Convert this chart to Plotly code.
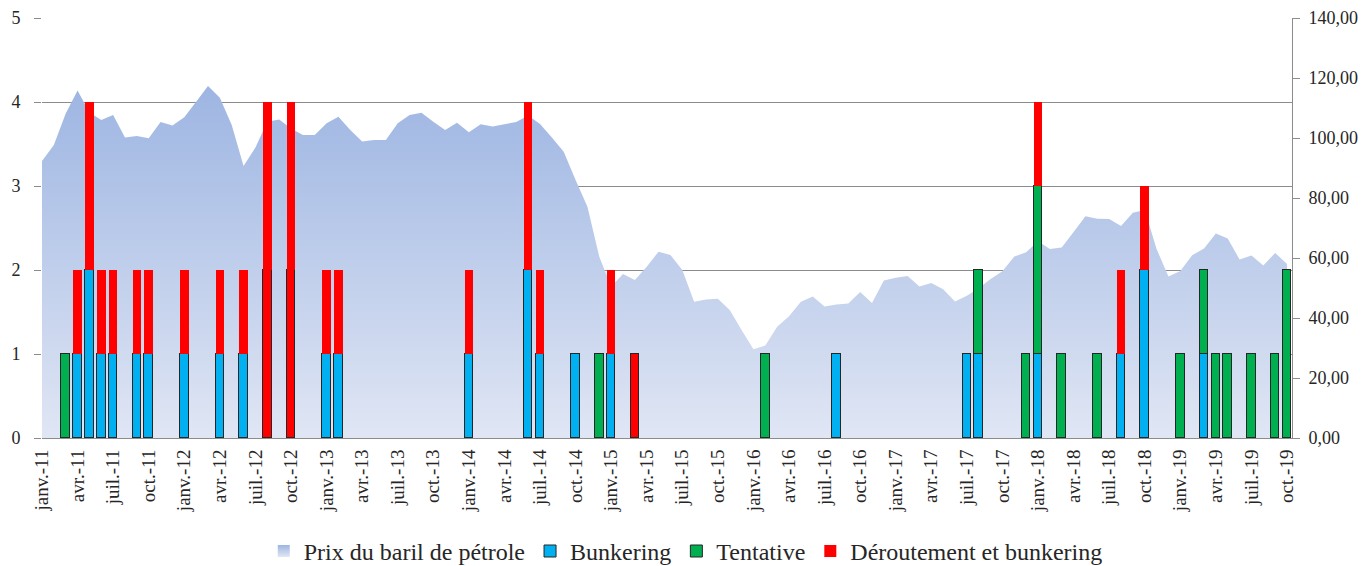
import plotly.graph_objects as go

# ---- categories (months janv.-11 .. oct.-19) ----
month_abbr = ["janv.", "févr.", "mars", "avr.", "mai", "juin",
              "juil.", "août", "sept.", "oct.", "nov.", "déc."]
years = ["11", "12", "13", "14", "15", "16", "17", "18", "19"]
months = [f"{m}-{y}" for y in years for m in month_abbr][:106]

# ---- oil price (right axis) ----
oil_price = [
    92.3, 97.7, 108.2, 115.8, 108.5, 106.0, 107.7, 100.2, 100.7, 99.9, 105.3, 104.2,
    106.9, 112.1, 117.3, 113.4, 104.3, 90.7, 96.8, 105.4, 106.2, 103.2, 101.0, 101.0,
    104.9, 107.1, 102.7, 98.8, 99.3, 99.3, 104.9, 107.7, 108.4, 105.4, 102.7, 105.1,
    101.9, 104.6, 103.8, 104.6, 105.3, 107.5, 104.7, 100.2, 95.4, 86.0, 77.1, 60.4,
    50.5, 54.7, 52.7, 57.1, 62.1, 61.0, 56.0, 45.4, 46.2, 46.4, 42.7, 36.0,
    29.6, 30.8, 37.1, 40.6, 45.4, 47.2, 43.8, 44.5, 44.8, 48.7, 45.0, 52.5,
    53.4, 54.0, 50.5, 51.7, 49.6, 45.5, 47.4, 49.9, 53.0, 55.6, 60.5, 61.9,
    65.6, 63.0, 63.5, 68.7, 73.9, 73.1, 73.0, 70.7, 75.1, 76.0, 63.0, 53.8,
    55.7, 60.9, 63.2, 68.2, 66.5, 59.5, 60.8, 57.5, 61.7, 58.0,
]

# ---- incidents (left axis): month label -> count ----
bunkering_months = ["avr.-11", "mai-11", "juin-11", "juil.-11", "sept.-11", "oct.-11",
                    "janv.-12", "avr.-12", "juin-12", "août-12", "oct.-12", "janv.-13",
                    "févr.-13", "janv.-14", "juin-14", "juil.-14", "oct.-14", "janv.-15",
                    "mars-15", "août-16", "juil.-17", "août-17", "janv.-18", "août-18",
                    "oct.-18", "mars-19"]
bunkering_counts = [1, 2, 1, 1, 1, 1, 1, 1, 1, 2, 2, 1, 1, 1, 2, 1, 1, 1, 1, 1, 1, 1, 1, 1, 2, 1]
# bunkering bars drawn with a red fill in the original
bunkering_red_months = ["août-12", "oct.-12", "mars-15"]

tentative_months = ["mars-11", "déc.-14", "févr.-16", "août-17", "déc.-17", "janv.-18",
                    "mars-18", "juin-18", "janv.-19", "mars-19", "avr.-19", "mai-19",
                    "juil.-19", "sept.-19", "oct.-19"]
tentative_counts = [1, 1, 1, 1, 1, 2, 1, 1, 1, 1, 1, 1, 1, 1, 2]

deroutement_months = ["avr.-11", "mai-11", "juin-11", "juil.-11", "sept.-11", "oct.-11",
                      "janv.-12", "avr.-12", "juin-12", "août-12", "oct.-12", "janv.-13",
                      "févr.-13", "janv.-14", "juin-14", "juil.-14", "janv.-15",
                      "janv.-18", "août-18", "oct.-18"]
deroutement_counts = [1, 2, 1, 1, 1, 1, 1, 1, 1, 2, 2, 1, 1, 1, 2, 1, 1, 1, 1, 1]

tick_labels = months[::3]


def dense(ms, cs):
    d = dict(zip(ms, cs))
    return [d.get(m, None) for m in months]


bunkering = dense(bunkering_months, bunkering_counts)
tentative = dense(tentative_months, tentative_counts)
deroutement = dense(deroutement_months, deroutement_counts)

BLUE = "#00B0F0"
GREEN = "#00B050"
RED = "#FF0000"
EDGE = "#262626"
AREA_TOP = "rgb(157,181,226)"
AREA_BOT = "rgb(224,230,244)"
bunk_colors = [RED if m in bunkering_red_months else BLUE for m in months]

FONT = "Liberation Serif"
TXT = "#262626"
GRID = "#8C8C8C"

fig = go.Figure()

fig.add_trace(go.Scatter(
    x=months, y=oil_price, name="Prix du baril de pétrole",
    mode="none", fill="tozeroy",
    fillgradient=dict(type="vertical",
                      colorscale=[[0, AREA_BOT], [1, AREA_TOP]],
                      start=0, stop=118),
    yaxis="y", hoverinfo="skip", showlegend=False, legendrank=1,
))
# legend swatch for the area (square, like the original)
fig.add_trace(go.Scatter(
    x=[months[0]], y=[None], name="Prix du baril de pétrole", mode="markers",
    marker=dict(symbol="square", size=12, color=AREA_TOP,
                gradient=dict(type="vertical", color=AREA_BOT), line=dict(width=0)),
    yaxis="y", hoverinfo="skip", showlegend=True, legendrank=1,
))

bar_w = 0.72
fig.add_trace(go.Bar(x=months, y=bunkering, name="Bunkering", yaxis="y2", width=bar_w,
                     legendrank=2,
                     marker=dict(color=bunk_colors, line=dict(color=EDGE, width=1))))
fig.add_trace(go.Bar(x=months, y=tentative, name="Tentative", yaxis="y2", width=bar_w,
                     legendrank=3,
                     marker=dict(color=GREEN, line=dict(color=EDGE, width=1))))
fig.add_trace(go.Bar(x=months, y=deroutement, name="Déroutement et bunkering", yaxis="y2",
                     width=bar_w, legendrank=4, marker=dict(color=RED, line=dict(width=0))))

# the page places the figure 8px from the top-left corner
fig.update_layout(
    width=1363, height=560,
    margin=dict(l=34, r=79, t=10, b=130, autoexpand=False),
    paper_bgcolor="white", plot_bgcolor="white",
    barmode="stack", bargap=0,
    separators=", ",
    font=dict(family=FONT, color=TXT, size=18),
    showlegend=True,
    legend=dict(orientation="h", x=0.515, xanchor="center", y=-0.27, yanchor="middle",
                font=dict(size=24, family=FONT, color=TXT), itemwidth=30,
                traceorder="normal"),
    xaxis=dict(type="category", range=[0, 105.42], tickmode="array",
               tickvals=tick_labels, ticktext=tick_labels, tickangle=-90,
               tickfont=dict(size=19, family=FONT, color=TXT),
               showline=True, linecolor=GRID, linewidth=1, ticks="",
               showgrid=False, zeroline=False, ticklabelstandoff=3, automargin=False),
    yaxis=dict(side="right", range=[0, 140], dtick=20, tickformat=".2f",
               showline=True, linecolor=GRID, linewidth=1,
               ticks="outside", ticklen=7, tickcolor=GRID,
               showgrid=False, zeroline=False, automargin=False,
               tickfont=dict(size=18, family=FONT, color=TXT), ticklabelstandoff=5),
    yaxis2=dict(overlaying="y", side="left", range=[0, 5], dtick=1,
                showgrid=True, gridcolor=GRID, gridwidth=1,
                ticks="outside", ticklen=7, tickcolor=GRID,
                showline=False, zeroline=False, automargin=False,
                tickfont=dict(size=18, family=FONT, color=TXT), ticklabelstandoff=10),
)

fig.write_html("out.html")
